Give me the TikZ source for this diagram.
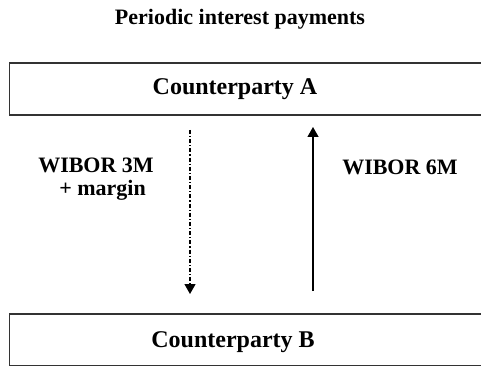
\documentclass[tikz,border=0pt]{standalone}
\usepackage{fontspec}
\setmainfont{Liberation Serif}
\usetikzlibrary{arrows.meta}
\begin{document}
\begin{tikzpicture}[x=1pt,y=-1pt,
  party/.style={draw=black!80,line width=1.6pt,minimum width=490pt,minimum height=52pt,inner sep=0pt},
  big/.style={font=\fontsize{24}{28}\selectfont\bfseries,inner sep=0pt,anchor=base},
  lbl/.style={font=\fontsize{22}{26}\selectfont\bfseries,inner sep=0pt,anchor=base},
  flow/.style={line width=1.3pt,-{Triangle[length=10pt,width=11pt]}}]
\useasboundingbox (0,0) rectangle (481,366);
% title
\node[big,font=\fontsize{22}{26}\selectfont\bfseries] (title) at (240,25) {Periodic interest payments};
% the two counterparties
\node[party,anchor=north west] (A) at (8.5,62) {};
\node[party,anchor=north west] (B) at (8.5,313) {};
\node[big] (tA) at (235,95) {Counterparty A};
\node[big] (tB) at (233,347) {Counterparty B};
% payment flows
\coordinate (dtop) at (190,130);
\coordinate (dbot) at (190,294);
\coordinate (stop) at (313,127);
\coordinate (sbot) at (313,291);
\draw[flow,dash pattern=on 4pt off 2pt on 1.2pt off 2pt] (dtop) -- (dbot);
\draw[flow] (sbot) -- (stop);
% rate labels
\node[lbl] (l3) at (96,172) {WIBOR 3M};
\node[lbl] (l3b) at (102.5,195) {+ margin};
\node[lbl] (l6) at (400,174) {WIBOR 6M};
\end{tikzpicture}
\end{document}
